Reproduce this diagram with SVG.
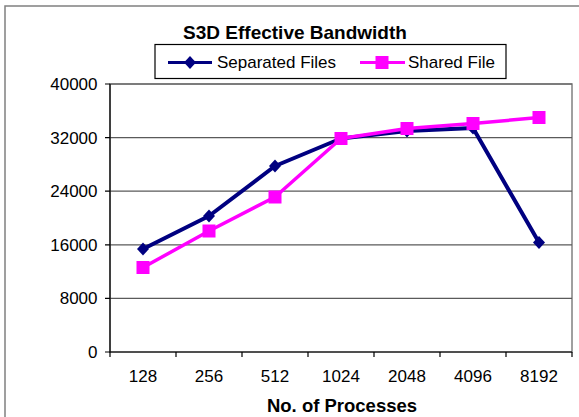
<svg xmlns="http://www.w3.org/2000/svg" width="579" height="417" viewBox="0 0 579 417">
  <style>
    text { font-family: "Liberation Sans", Arial, sans-serif; fill: #000; }
    .tick { font-size: 17px; }
    .ylab { text-anchor: end; }
    .xlab { text-anchor: middle; }
    .title { font-size: 19px; font-weight: bold; text-anchor: middle; }
    .axtitle { font-size: 18.5px; font-weight: bold; text-anchor: middle; }
    .legend { font-size: 17px; }
    .grid { stroke: #5a5a5a; stroke-width: 1.2; }
    .axis { stroke: #000; stroke-width: 1.2; fill: none; }
    .sep { stroke: #000080; stroke-width: 4; fill: none; stroke-linejoin: round; }
    .shr { stroke: #ff00ff; stroke-width: 3.5; fill: none; stroke-linejoin: round; }
  </style>
  <defs>
    <path id="dia" d="M0,-6.5 L6,0 L0,6.5 L-6,0 Z" fill="#000080"/>
    <rect id="sq" x="-6.5" y="-6.5" width="13" height="13" fill="#ff00ff"/>
  </defs>

  <rect width="579" height="417" fill="#fff"/>
  <!-- chart frame -->
  <rect x="5" y="6" width="600" height="450" fill="none" stroke="#808080" stroke-width="1.5"/>

  <text class="title" x="295" y="39">S3D Effective Bandwidth</text>

  <!-- legend -->
  <g id="legend">
    <rect x="155" y="44.5" width="351" height="34" fill="#fff" stroke="#000" stroke-width="1.2"/>
    <line x1="168" y1="62.5" x2="212" y2="62.5" stroke="#000080" stroke-width="3"/>
    <use href="#dia" x="190" y="62.5"/>
    <text class="legend" x="217" y="68">Separated Files</text>
    <line x1="360" y1="62.5" x2="405" y2="62.5" stroke="#ff00ff" stroke-width="3"/>
    <use href="#sq" x="382" y="62.5"/>
    <text class="legend" x="408" y="68">Shared File</text>
  </g>

  <!-- plot area and grid -->
  <g id="plot">
    <rect x="110" y="84" width="462" height="268" fill="#fff" stroke="#808080" stroke-width="1.5"/>
    <line class="grid" x1="110" y1="84" x2="572" y2="84"/>
    <line class="grid" x1="110" y1="137.6" x2="572" y2="137.6"/>
    <line class="grid" x1="110" y1="191.2" x2="572" y2="191.2"/>
    <line class="grid" x1="110" y1="244.8" x2="572" y2="244.8"/>
    <line class="grid" x1="110" y1="298.4" x2="572" y2="298.4"/>
  </g>

  <!-- axes -->
  <g id="axes">
    <path class="axis" d="M110,84 V352 H572"/>
    <path class="axis" d="M105,84 H110 M105,137.6 H110 M105,191.2 H110 M105,244.8 H110 M105,298.4 H110 M105,352 H110"/>
    <path class="axis" d="M110,352 V357 M176,352 V357 M242,352 V357 M308,352 V357 M374,352 V357 M440,352 V357 M506,352 V357 M572,352 V357"/>
    <g class="tick ylab">
      <text x="97.5" y="90">40000</text>
      <text x="97.5" y="143.6">32000</text>
      <text x="97.5" y="197.2">24000</text>
      <text x="97.5" y="250.8">16000</text>
      <text x="97.5" y="304.4">8000</text>
      <text x="97.5" y="358">0</text>
    </g>
    <g class="tick xlab">
      <text x="143" y="382">128</text>
      <text x="209" y="382">256</text>
      <text x="275" y="382">512</text>
      <text x="341" y="382">1024</text>
      <text x="407" y="382">2048</text>
      <text x="473" y="382">4096</text>
      <text x="539" y="382">8192</text>
    </g>
    <text class="axtitle" x="342" y="411.5">No. of Processes</text>
  </g>

  <!-- data series -->
  <g id="series-separated">
    <polyline class="sep" points="143,249 209,216 275,166 341,138.5 407,131 473,128 539,242.5"/>
    <use href="#dia" x="143" y="249"/>
    <use href="#dia" x="209" y="216"/>
    <use href="#dia" x="275" y="166"/>
    <use href="#dia" x="341" y="138.5"/>
    <use href="#dia" x="407" y="131"/>
    <use href="#dia" x="473" y="128"/>
    <use href="#dia" x="539" y="242.5"/>
  </g>
  <g id="series-shared">
    <polyline class="shr" points="143,267.5 209,231 275,197 341,138.5 407,128.5 473,123.5 539,117.5"/>
    <use href="#sq" x="143" y="267.5"/>
    <use href="#sq" x="209" y="231"/>
    <use href="#sq" x="275" y="197"/>
    <use href="#sq" x="341" y="138.5"/>
    <use href="#sq" x="407" y="128.5"/>
    <use href="#sq" x="473" y="123.5"/>
    <use href="#sq" x="539" y="117.5"/>
  </g>
</svg>
